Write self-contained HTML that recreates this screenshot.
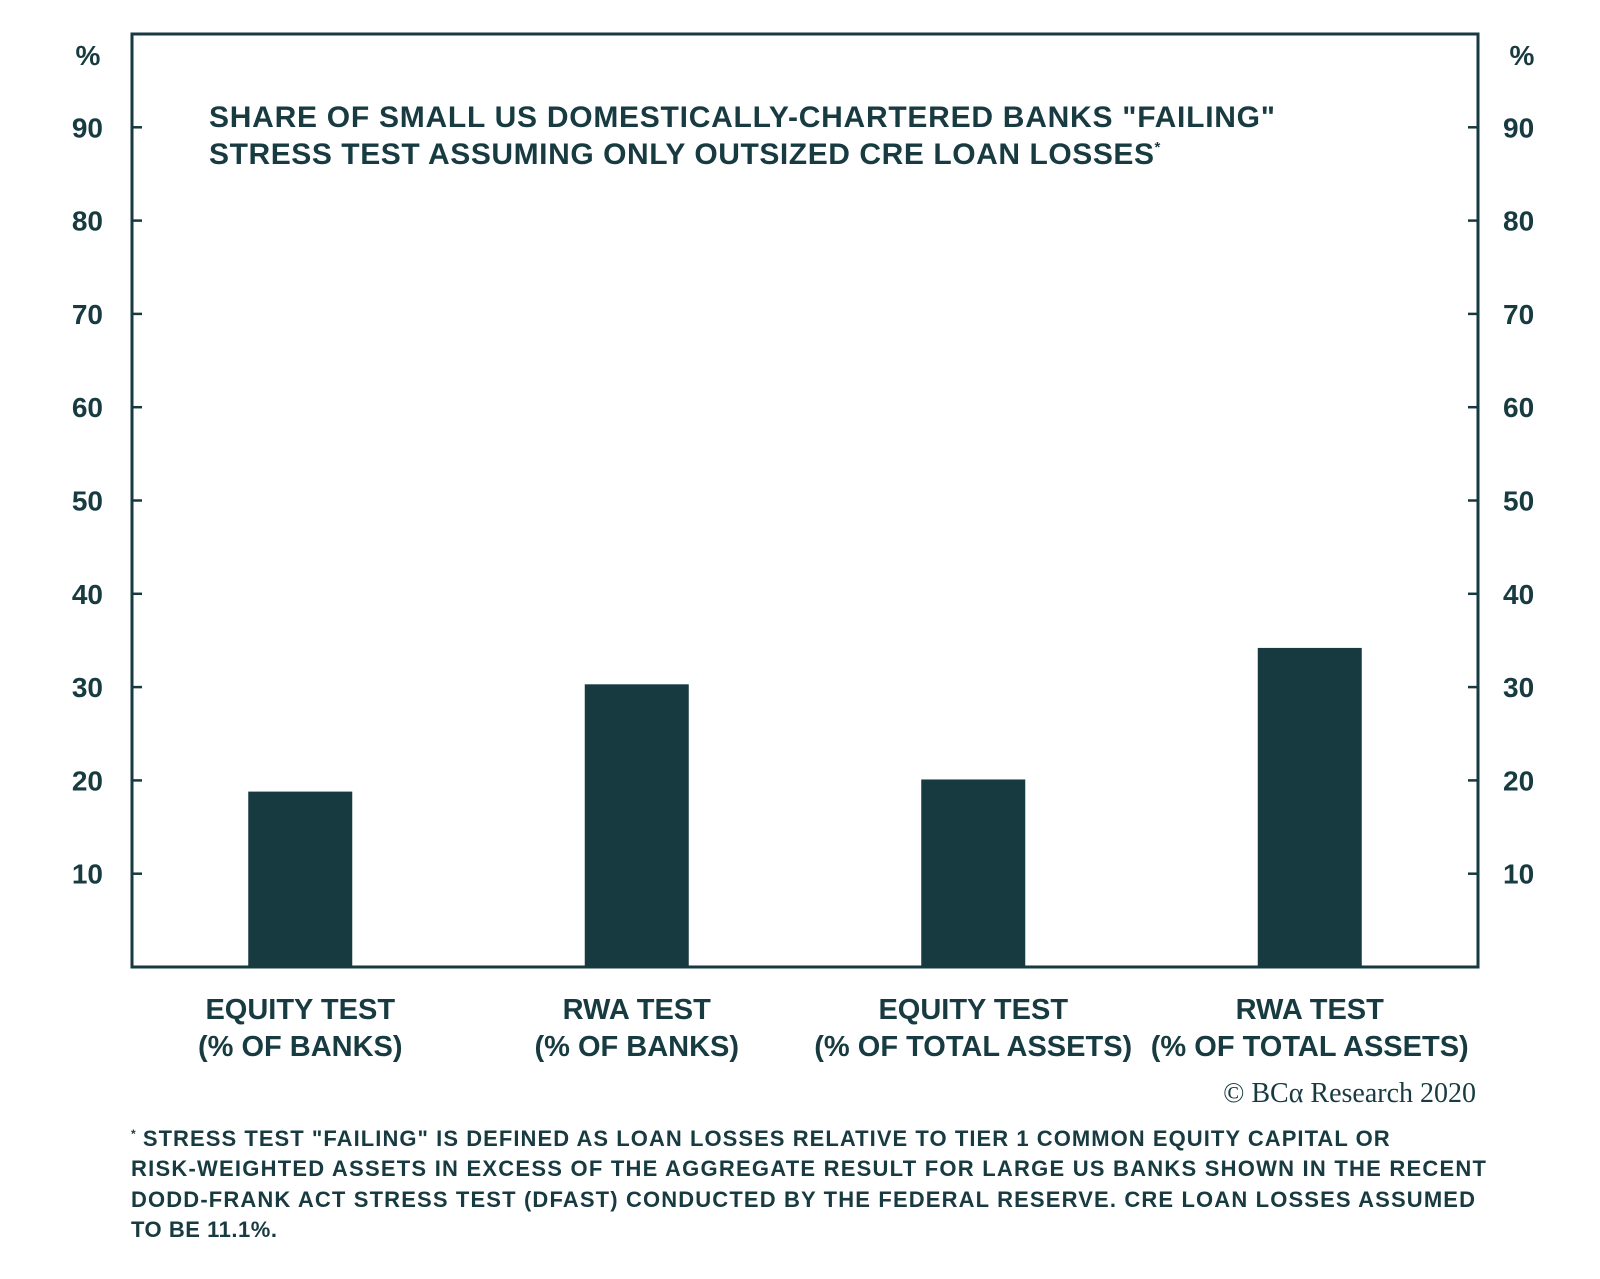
<!DOCTYPE html>
<html><head><meta charset="utf-8"><style>
body{margin:0;background:#fff;}
svg text{font-family:"Liberation Sans",sans-serif;fill:#173b40;font-weight:bold;}
</style></head><body>
<svg width="1600" height="1274" viewBox="0 0 1600 1274">
<g id="axes"></g><g id="bars"></g>
<text x="209" y="127" font-size="30" textLength="1066" lengthAdjust="spacing">SHARE OF SMALL US  DOMESTICALLY-CHARTERED BANKS "FAILING"</text>
<text x="209" y="164" font-size="30"><tspan textLength="945" lengthAdjust="spacing">STRESS TEST ASSUMING ONLY OUTSIZED CRE LOAN LOSSES</tspan><tspan font-size="15" dy="-12">*</tspan></text>
<text x="1476" y="1102" font-size="28" text-anchor="end" style="font-family:'Liberation Serif',serif;font-weight:normal">© BCα Research 2020</text>
<g font-size="22">
<text x="131" y="1146"><tspan font-size="12" dy="-8">*</tspan><tspan dy="8" textLength="1254" lengthAdjust="spacing"> STRESS TEST "FAILING" IS DEFINED AS LOAN LOSSES RELATIVE TO TIER 1 COMMON EQUITY CAPITAL OR</tspan></text>
<text x="131" y="1176" textLength="1355" lengthAdjust="spacing">RISK-WEIGHTED ASSETS IN EXCESS OF THE AGGREGATE RESULT FOR LARGE US BANKS SHOWN IN THE RECENT</text>
<text x="131" y="1207" textLength="1344" lengthAdjust="spacing">DODD-FRANK ACT STRESS TEST (DFAST) CONDUCTED BY THE FEDERAL RESERVE. CRE LOAN LOSSES ASSUMED</text>
<text x="131" y="1237" textLength="146" lengthAdjust="spacing">TO BE 11.1%.</text>
</g>
</svg>
<script>
const categories1 = ["EQUITY TEST","RWA TEST","EQUITY TEST","RWA TEST"];
const categories2 = ["(% OF BANKS)","(% OF BANKS)","(% OF TOTAL ASSETS)","(% OF TOTAL ASSETS)"];
const values = [18.8, 30.3, 20.1, 34.2];
const ticks = [10,20,30,40,50,60,70,80,90];
const NS="http://www.w3.org/2000/svg";
const L=132,R=1478,T=34,B=967,C="#163a3f";
const y=v=>B-(v/100)*(B-T);
const band=(R-L)/categories1.length;
const x=i=>L+band*(i+0.5);
function mk(tag,attrs,parent,text){const e=document.createElementNS(NS,tag);for(const k in attrs)e.setAttribute(k,attrs[k]);if(text!==undefined)e.textContent=text;parent.appendChild(e);return e;}
const ax=document.getElementById('axes'), bg=document.getElementById('bars');
const fr=mk('rect',{x:L,y:T,width:R-L,height:B-T,fill:'none',stroke:C,'stroke-width':3},ax);


ticks.forEach(t=>{
  const a=mk('line',{x1:L,x2:L+10,y1:y(t),y2:y(t),stroke:C,'stroke-width':2.5},ax);
  
  
  const b=mk('line',{x1:R-10,x2:R,y1:y(t),y2:y(t),stroke:C,'stroke-width':2.5},ax);
  
  
  const l=mk('text',{x:103,y:y(t)+10,'font-size':28,'text-anchor':'end'},ax,String(t));
  
  
  const r=mk('text',{x:1503,y:y(t)+10,'font-size':28},ax,String(t));
  
  
});
const p1=mk('text',{x:88,y:65,'font-size':28,'text-anchor':'middle'},ax,'%');


const p2=mk('text',{x:1522,y:65,'font-size':28,'text-anchor':'middle'},ax,'%');


values.forEach((v,i)=>{
  const w=104;
  const r=mk('rect',{x:x(i)-w/2,y:y(v),width:w,height:B-y(v),fill:C},bg);
  
  
  const t1=mk('text',{x:x(i),y:1019,'font-size':29,'text-anchor':'middle'},ax,categories1[i]);
  
  
  const t2=mk('text',{x:x(i),y:1056,'font-size':29,'text-anchor':'middle'},ax,categories2[i]);
  
  
});
</script>
</body></html>
